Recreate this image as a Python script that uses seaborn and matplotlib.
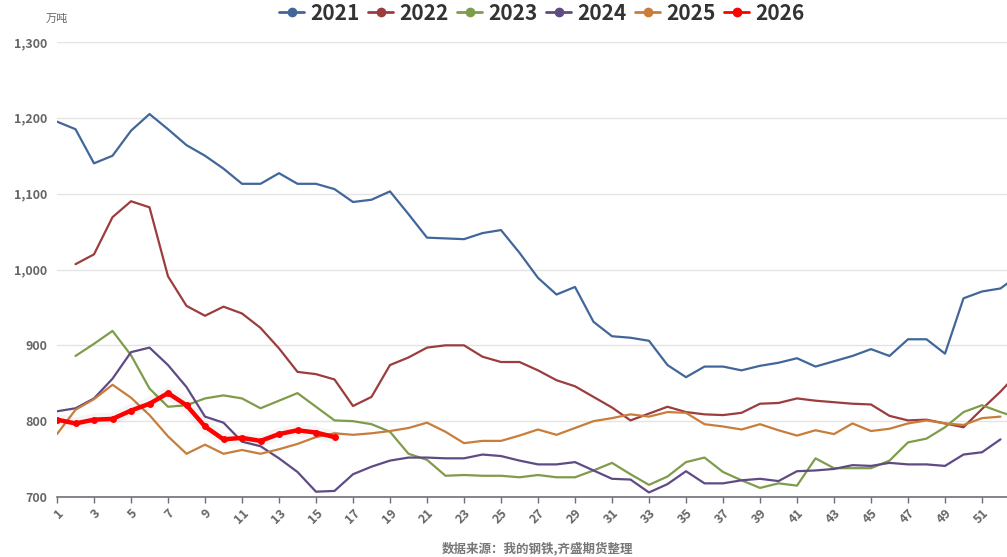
import numpy as np
import pandas as pd
import matplotlib
matplotlib.use("Agg")
import matplotlib.pyplot as plt
import matplotlib.patheffects as pe
from matplotlib.lines import Line2D
import seaborn as sns

# Weekly output (万吨) by year; week index starts at the given first week
years = ["2021", "2022", "2023", "2024", "2025", "2026"]
first_week = [1, 2, 2, 1, 1, 1]

v2021 = [1195, 1185, 1140, 1150, 1183, 1205, 1185, 1164, 1150, 1133,
         1113, 1113, 1127, 1113, 1113, 1106, 1089, 1092, 1103, 1073,
         1042, 1041, 1040, 1048, 1052, 1022, 989, 967, 977, 931,
         912, 910, 906, 874, 858, 872, 872, 867, 873, 877,
         883, 872, 879, 886, 895, 886, 908, 908, 889, 962,
         971, 975, 993]
v2022 = [1007, 1020, 1069, 1090, 1082, 991, 952, 939, 951,
         942, 923, 896, 865, 862, 855, 820, 832, 874, 884,
         897, 900, 900, 885, 878, 878, 867, 854, 846, 832,
         818, 801, 810, 819, 812, 809, 808, 811, 823, 824,
         830, 827, 825, 823, 822, 807, 801, 802, 797, 792,
         816, 839, 865]
v2023 = [886, 902, 919, 887, 843, 819, 821, 830, 834,
         830, 817, 827, 837, 819, 801, 800, 796, 786, 757,
         749, 728, 729, 728, 728, 726, 729, 726, 726, 735,
         745, 730, 716, 727, 746, 752, 733, 722, 712, 718,
         715, 751, 738, 738, 738, 748, 772, 777, 792, 812,
         821, 812, 804]
v2024 = [813, 817, 830, 856, 891, 897, 874, 845, 806, 798,
         773, 767, 751, 733, 707, 708, 730, 740, 748, 752,
         752, 751, 751, 756, 754, 748, 743, 743, 746, 735,
         724, 723, 706, 717, 734, 718, 718, 722, 724, 721,
         734, 735, 737, 742, 741, 745, 743, 743, 741, 756,
         759, 776]
v2025 = [783, 815, 829, 848, 831, 808, 780, 757, 769, 757,
         762, 757, 763, 770, 779, 784, 782, 784, 787, 791,
         798, 786, 771, 774, 774, 781, 789, 782, 791, 800,
         804, 809, 806, 812, 811, 796, 793, 789, 796, 788,
         781, 788, 783, 797, 787, 790, 797, 801, 797, 795,
         804, 806]
v2026 = [802, 797, 802, 803, 814, 823, 837, 821, 793, 776,
         778, 774, 783, 788, 785, 779]

series = [v2021, v2022, v2023, v2024, v2025, v2026]
colors = ["#41679a", "#9c3d3d", "#7f9c4a", "#5f4b83", "#c97d3b", "#ff0000"]

y_ticks = [700, 800, 900, 1000, 1100, 1200, 1300]
x_ticks = list(range(1, 54, 2))
unit_label = "万吨"
source_note = "数据来源：我的钢铁,齐盛期货整理"

frames = []
for yr, start, vals in zip(years, first_week, series):
    frames.append(pd.DataFrame({"year": yr,
                                "week": np.arange(start, start + len(vals)),
                                "value": vals}))
df = pd.concat(frames, ignore_index=True)

sns.set_theme(style="white")
plt.rcParams["font.family"] = ["Noto Sans CJK SC", "DejaVu Sans"]

W, H = 1007, 557
fig = plt.figure(figsize=(W / 100, H / 100), dpi=100)
ax = fig.add_axes([57 / W, 60 / H, 962 / W, 455 / H])

for yr, col in zip(years, colors):
    sub = df[df["year"] == yr]
    if yr == "2026":
        # soft halo under the current-year line
        sns.lineplot(data=sub, x="week", y="value", ax=ax, color=(0, 0, 0, 0.04),
                     linewidth=9, legend=False, zorder=4, solid_capstyle="round")
        sns.lineplot(data=sub, x="week", y="value", ax=ax, color=col,
                     linewidth=3.2, marker="o", markersize=5,
                     markeredgewidth=0, legend=False, zorder=5)
    else:
        sns.lineplot(data=sub, x="week", y="value", ax=ax, color=col,
                     linewidth=1.6, legend=False, zorder=3)

ax.set_xlim(1, 53)
ax.set_ylim(700, 1300)
ax.set_xlabel("")
ax.set_ylabel("")

ax.set_yticks(y_ticks)
ax.set_yticklabels([f"{v:,}" for v in y_ticks], fontweight="bold")
ax.tick_params(axis="y", length=0, pad=7, labelsize=9, labelcolor="#666666")

ax.set_xticks(x_ticks)
ax.set_xticklabels([str(v) for v in x_ticks], rotation=45, ha="right",
                   rotation_mode="anchor", fontweight="bold")
ax.tick_params(axis="x", bottom=True, length=4, width=1, color="#6e7079",
               pad=3, labelsize=9, labelcolor="#666666")

ax.yaxis.grid(True, color="#e4e4e4", linewidth=1)
ax.xaxis.grid(False)
for side in ["left", "right", "top"]:
    ax.spines[side].set_visible(False)
ax.spines["bottom"].set_color("#6e7079")
ax.spines["bottom"].set_linewidth(1.2)

handles = [Line2D([], [], color=c, linewidth=2, marker="o", markersize=7,
                  markeredgewidth=0) for c in colors]
leg = fig.legend(handles, years, loc="center", bbox_to_anchor=(542 / W, 1 - 13 / H),
                 ncol=6, frameon=False, prop={"weight": "bold", "size": 15},
                 handlelength=1.2, handletextpad=0.3, columnspacing=0.4)
for t in leg.get_texts():
    t.set_color("#333333")

fig.text(57 / W, 1 - 19 / H, unit_label, ha="center", va="center",
         fontsize=8, color="#666666")
fig.text(538 / W, 1 - 548 / H, source_note, ha="center", va="center",
         fontsize=9, color="#777777", fontweight="bold")

fig.savefig("out.png", dpi=100)
